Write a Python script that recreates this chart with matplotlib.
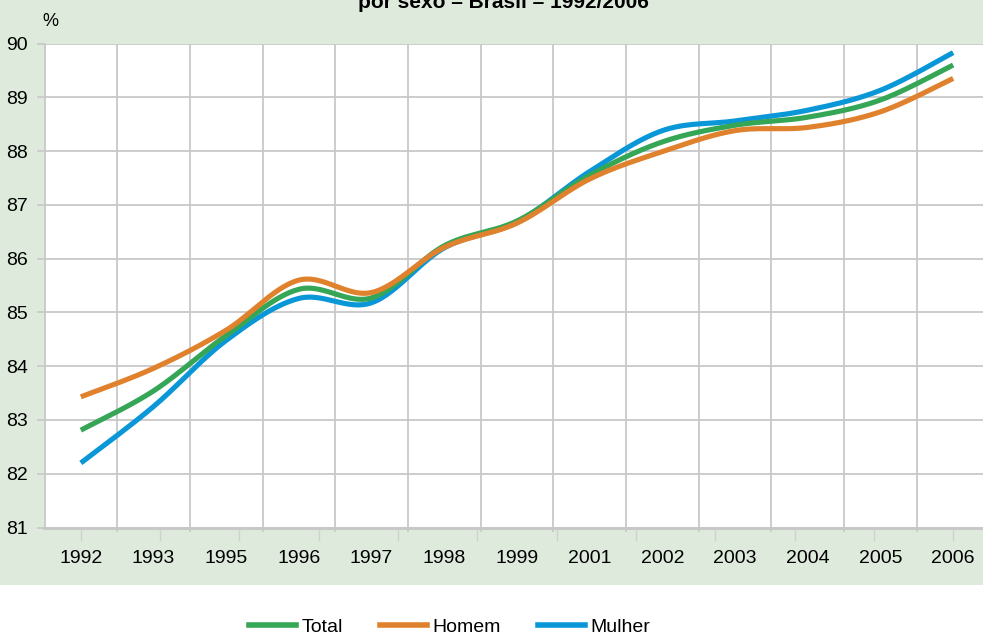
import numpy as np
import matplotlib
matplotlib.use('Agg')
import matplotlib.pyplot as plt
from matplotlib.patches import Rectangle

plt.rcParams['font.family'] = ['Liberation Sans', 'DejaVu Sans']

anos = ['1992', '1993', '1995', '1996', '1997', '1998', '1999',
        '2001', '2002', '2003', '2004', '2005', '2006']
total = [82.81, 83.54, 84.57, 85.43, 85.27, 86.24, 86.70,
         87.55, 88.17, 88.48, 88.63, 88.95, 89.60]
homem = [83.43, 83.96, 84.67, 85.60, 85.37, 86.21, 86.66,
         87.48, 87.99, 88.38, 88.44, 88.73, 89.35]
mulher = [82.20, 83.25, 84.48, 85.26, 85.18, 86.20, 86.68,
          87.62, 88.38, 88.56, 88.76, 89.13, 89.83]

VERDE = '#35a556'
LARANJA = '#e0822d'
AZUL = '#0a97d8'
FUNDO = '#deebdc'
GRADE = '#c8c8c8'


def suaviza(y, n=30):
    # curva suave (Catmull-Rom) passando pelos pontos, como a linha suavizada do Excel
    y = np.asarray(y, dtype=float)
    x = np.arange(len(y), dtype=float)
    px = np.concatenate([[x[0]], x, [x[-1]]])
    py = np.concatenate([[y[0]], y, [y[-1]]])
    xs, ys = [], []
    for i in range(1, len(px) - 2):
        p0, p1, p2, p3 = (np.array([px[j], py[j]]) for j in range(i - 1, i + 3))
        c1 = p1 + (p2 - p0) / 6
        c2 = p2 - (p3 - p1) / 6
        t = np.linspace(0, 1, n)[:, None]
        b = ((1 - t) ** 3) * p1 + 3 * ((1 - t) ** 2) * t * c1 + 3 * (1 - t) * t ** 2 * c2 + t ** 3 * p2
        xs.extend(b[:, 0])
        ys.extend(b[:, 1])
    return np.array(xs), np.array(ys)


fig = plt.figure(figsize=(9.83, 6.35), dpi=100)
fig.patch.set_facecolor('white')
fig.patches.append(Rectangle((0, 50 / 635), 1, 1, transform=fig.transFigure,
                             facecolor=FUNDO, edgecolor='none', zorder=-10))

ax = fig.add_axes([44.5 / 983, 107.5 / 635, 945 / 983, 484 / 635])
ax.set_facecolor('white')

for serie, cor, z in [(mulher, AZUL, 3), (total, VERDE, 4), (homem, LARANJA, 5)]:
    xs, ys = suaviza(serie)
    ax.plot(xs, ys, color=cor, lw=3.7, solid_capstyle='butt', zorder=z)

ax.set_xlim(-0.5, len(anos) - 0.5)
ax.set_ylim(81, 90)
ax.set_yticks(range(81, 91))
ax.tick_params(axis='y', length=6, width=1.2, color=GRADE, labelsize=14, pad=6)

# grade vertical entre as categorias, rótulos no centro
ax.set_xticks(np.arange(len(anos) - 1) + 0.5)
ax.set_xticklabels([])
ax.set_xticks(np.arange(len(anos)), minor=True)
ax.set_xticklabels(anos, minor=True)
ax.tick_params(axis='x', which='major', length=3, width=1.2, color=GRADE)
ax.tick_params(axis='x', which='minor', length=0, labelsize=14, pad=16)
ax.grid(True, which='major', color=GRADE, lw=1.3)
ax.set_axisbelow(True)

for s in ['top', 'right']:
    ax.spines[s].set_visible(False)
ax.spines['left'].set_color(GRADE)
ax.spines['left'].set_linewidth(1.3)
ax.spines['bottom'].set_color(GRADE)
ax.spines['bottom'].set_linewidth(2.2)

# marcas do eixo secundário abaixo do eixo x
sec = ax.secondary_xaxis('bottom')
sec.spines['bottom'].set_visible(False)
sec.set_xticks(np.linspace(0, len(anos) - 1, len(anos) - 1))
sec.set_xticklabels([])
sec.tick_params(length=9, width=1.0, color='#d0d0d0')

fig.text(503 / 983, 1 - 8 / 635, 'por sexo – Brasil – 1992/2006', ha='center',
         va='baseline', fontsize=15, fontweight='bold')
fig.text(50 / 983, 1 - 21 / 635, '%', ha='center', va='center', fontsize=13)

linhas = [plt.Line2D([], [], color=c, lw=4.0) for c in (VERDE, LARANJA, AZUL)]
fig.legend(linhas, ['Total', 'Homem', 'Mulher'], loc='center',
           bbox_to_anchor=(450 / 983, 1 - 627 / 635), ncol=3, frameon=False,
           fontsize=14, handlelength=2.4, handletextpad=0.3, columnspacing=1.9)

fig.savefig('out.png', dpi=100, facecolor=fig.get_facecolor())
